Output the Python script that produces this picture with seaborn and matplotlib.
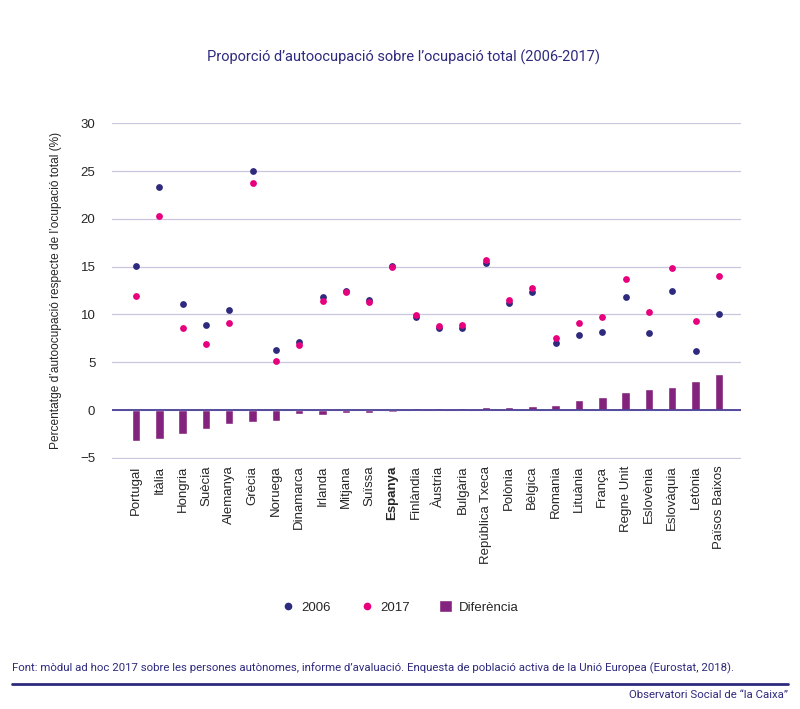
import pandas as pd
import matplotlib.pyplot as plt
import seaborn as sns
from matplotlib.lines import Line2D
from matplotlib.patches import Patch

# data
countries = ['Portugal', 'Itàlia', 'Hongria', 'Suècia', 'Alemanya', 'Grècia', 'Noruega',
             'Dinamarca', 'Irlanda', 'Mitjana', 'Suïssa', 'Espanya', 'Finlàndia', 'Àustria',
             'Bulgària', 'República Txeca', 'Polònia', 'Bèlgica', 'Romania', 'Lituània',
             'França', 'Regne Unit', 'Eslovènia', 'Eslovàquia', 'Letònia', 'Països Baixos']
val_2006 = [15.1, 23.3, 11.1, 8.9, 10.5, 25.0, 6.3, 7.1, 11.8, 12.5, 11.5, 15.1, 9.7, 8.6,
            8.6, 15.4, 11.2, 12.3, 7.0, 7.9, 8.2, 11.8, 8.1, 12.5, 6.2, 10.1]
val_2017 = [11.9, 20.3, 8.6, 6.9, 9.1, 23.8, 5.1, 6.8, 11.4, 12.3, 11.3, 15.0, 9.9, 8.8,
            8.9, 15.7, 11.5, 12.8, 7.5, 9.1, 9.7, 13.7, 10.3, 14.9, 9.3, 14.0]
diferencia = [-3.2, -3.0, -2.5, -2.0, -1.4, -1.2, -1.1, -0.4, -0.5, -0.3, -0.25, -0.15, 0.2, 0.2,
              0.2, 0.3, 0.35, 0.4, 0.5, 1.1, 1.4, 1.9, 2.2, 2.4, 3.0, 3.8]

df = pd.DataFrame({'pais': countries, 'y2006': val_2006, 'y2017': val_2017, 'dif': diferencia})

navy = '#2e2a7e'
magenta = '#e6007e'
purple = '#84237e'

sns.set_style('white')
plt.rcParams['font.family'] = ['Liberation Sans', 'DejaVu Sans']

fig = plt.figure(figsize=(8, 7.09), dpi=100)
ax = fig.add_axes([0.14, 0.353, 0.786, 0.4735])

sns.barplot(data=df, x='pais', y='dif', color=purple, width=0.36, saturation=1, ax=ax, zorder=2)
sns.scatterplot(data=df, x='pais', y='y2006', color=navy, s=24, linewidth=0, ax=ax, zorder=3)
sns.scatterplot(data=df, x='pais', y='y2017', color=magenta, s=24, linewidth=0, ax=ax, zorder=4)

ax.set_ylim(-5.08, 30.02)
ax.set_xlim(-1.03, len(df) - 0.06)
ax.set_yticks(range(-5, 31, 5))
for v in range(-5, 31, 5):
    ax.axhline(v, color='#cbc6df', lw=0.9, zorder=0)
ax.axhline(0, color='#4a3f96', lw=1.3, zorder=5)
for s in ax.spines.values():
    s.set_visible(False)
ax.tick_params(axis='both', length=0, labelsize=9.5)
ax.tick_params(axis='y', pad=12)
ax.tick_params(axis='x', pad=5)
ax.set_xticks(range(len(df)))
ax.set_xticklabels(df['pais'], rotation=90, va='top')
for lab in ax.get_xticklabels():
    if lab.get_text() == 'Espanya':
        lab.set_fontweight('bold')
ax.set_xlabel('')
ax.set_ylabel("Percentatge d’autoocupació respecte de l’ocupació total (%)", fontsize=8.6, labelpad=13)

fig.text(0.504, 1 - 57 / 709, 'Proporció d’autoocupació sobre l’ocupació total (2006-2017)',
         ha='center', va='center', fontsize=10.5, color=navy, family=['Roboto', 'DejaVu Sans'])

handles = [Line2D([], [], marker='o', ls='', color=navy, markersize=4.5, label='2006'),
           Line2D([], [], marker='o', ls='', color=magenta, markersize=4.5, label='2017'),
           Patch(facecolor=purple, label='Diferència')]
fig.legend(handles=handles, loc='center', bbox_to_anchor=(0.5, 1 - 607 / 709), ncol=3,
           frameon=False, fontsize=9.5, columnspacing=2.2, handlelength=1, handletextpad=0.5,
           handleheight=1)

fig.text(12 / 800, 1 - 668 / 709,
         'Font: mòdul ad hoc 2017 sobre les persones autònomes, informe d’avaluació. '
         'Enquesta de població activa de la Unió Europea (Eurostat, 2018).',
         ha='left', va='center', fontsize=8.2, color=navy, family=['Roboto', 'DejaVu Sans'])
fig.add_artist(Line2D([12 / 800, 788 / 800], [1 - 684 / 709, 1 - 684 / 709], color=navy, lw=2))
fig.text(788 / 800, 1 - 695 / 709, 'Observatori Social de “la Caixa”',
         ha='right', va='center', fontsize=8.2, color=navy, family=['Roboto', 'DejaVu Sans'])

fig.savefig('out.png', dpi=100)
